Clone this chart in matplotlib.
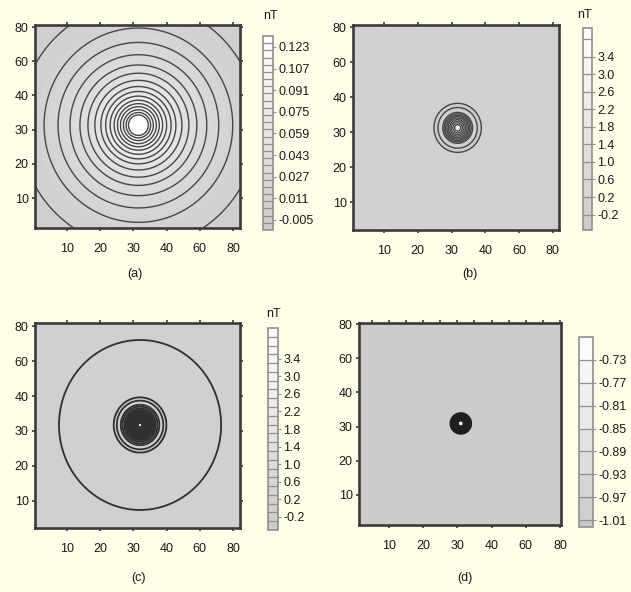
import numpy as np
import matplotlib
matplotlib.use('Agg')
import matplotlib.pyplot as plt
from matplotlib.colors import LinearSegmentedColormap

plt.rcParams['font.family'] = ['Liberation Sans', 'DejaVu Sans']
plt.rcParams['axes.unicode_minus'] = False

# ---------------- data ----------------
tick_labels = ['10', '20', '30', '40', '60', '80']
tick_pos = [1, 2, 3, 4, 5, 6]

a_center = (3.15, 3.13)
a_radius = [0, 0.22, 0.30, 0.37, 0.45, 0.54, 0.63, 0.73, 0.85, 0.985, 1.13,
            1.31, 1.52, 1.76, 2.06, 2.42, 2.84, 3.58, 4.6]
a_value = [0.136, 0.128, 0.123, 0.115, 0.107, 0.099, 0.091, 0.083, 0.075,
           0.067, 0.059, 0.051, 0.043, 0.035, 0.027, 0.019, 0.011, 0.003, -0.007]
a_lines = [0.003, 0.011, 0.019, 0.027, 0.035, 0.043, 0.051, 0.059, 0.067,
           0.075, 0.083, 0.091, 0.099, 0.107, 0.115, 0.123]
a_cb_ticks = [-0.005, 0.011, 0.027, 0.043, 0.059, 0.075, 0.091, 0.107, 0.123]

# panel (b)
b_center = (3.18, 3.12)
b_radius = [0, 0.09, 0.14, 0.19, 0.235, 0.28, 0.32, 0.36, 0.40, 0.44,
            0.58, 0.64, 0.70, 0.85, 4.6]
b_value = [3.8, 3.4, 3.0, 2.6, 2.2, 1.8, 1.4, 1.0, 0.6, 0.2,
           -0.2, -0.3, -0.2, -0.05, 0.0]
b_lines = [-0.2, 0.2, 0.6, 1.0, 1.4, 1.8, 2.2, 2.6, 3.0, 3.4]
b_cb_ticks = [-0.2, 0.2, 0.6, 1.0, 1.4, 1.8, 2.2, 2.6, 3.0, 3.4]

# panel (c)
c_center = (3.2, 3.17)
c_radius = [0, 0.06, 0.15, 0.25, 0.35, 0.45, 0.58, 0.70, 0.745, 0.79, 1.6, 2.44, 4.6]
c_value = [3.9, 3.6, 2.8, 2.0, 1.3, 0.7, 0.2, 0.0, -0.1, 0.0, 0.05, 0.0, -0.04]
c_lines = [-0.2, 0.0, 0.2, 0.4, 0.6, 0.8, 1.0, 1.2, 1.4, 1.6, 1.8, 2.0, 2.2,
           2.4, 2.6, 2.8, 3.0, 3.2, 3.4, 3.6]
c_cb_ticks = [-0.2, 0.2, 0.6, 1.0, 1.4, 1.8, 2.2, 2.6, 3.0, 3.4]

# panel (d)
d_center = (3.1, 3.09)
d_radius = [0, 0.08, 0.12, 0.15, 0.18, 0.21, 0.24, 0.27, 0.30, 4.6]
d_value = [-0.66, -0.73, -0.77, -0.81, -0.85, -0.89, -0.93, -0.97, -1.01, -1.015]
d_lines = [-1.01, -0.97, -0.93, -0.89, -0.85, -0.81, -0.77, -0.73]
d_cb_ticks = [-1.01, -0.97, -0.93, -0.89, -0.85, -0.81, -0.77, -0.73]

# ---------------- styling ----------------
W, H = 631, 592
BG = '#fffee8'
fig = plt.figure(figsize=(W / 100, H / 100), dpi=100, facecolor=BG)

cmap = LinearSegmentedColormap.from_list('g', ['#cacaca', '#ffffff'])


def px_axes(l, t, r, b):
    return fig.add_axes([l / W, 1 - b / H, (r - l) / W, (b - t) / H])


def panel(box, cbox, xlim, ylim, center, radius, value, lines, bounds,
          cb_ticks, fmt, label, label_xy, nT_xy, right_ticks, top_minor, lw, lc):
    ax = px_axes(*box)
    n = 900
    x = np.linspace(xlim[0], xlim[1], n)
    y = np.linspace(ylim[0], ylim[1], n)
    X, Y = np.meshgrid(x, y)
    R = np.hypot(X - center[0], Y - center[1])
    Z = np.interp(R, radius, value)
    eps = 1e-6 * (bounds[-1] - bounds[0])
    Zf = np.clip(Z, bounds[0] + eps, bounds[-1] - eps)
    cf = ax.contourf(X, Y, Zf, levels=bounds, cmap=cmap)
    ax.contour(X, Y, Z, levels=lines, colors=lc, linewidths=lw,
               linestyles='solid')
    ax.set_xlim(xlim)
    ax.set_ylim(ylim)
    ax.set_xticks(tick_pos)
    ax.set_xticklabels(tick_labels)
    ax.set_yticks(tick_pos)
    ax.set_yticklabels(tick_labels)
    for s in ax.spines.values():
        s.set_linewidth(1.9)
        s.set_color('#3a3a3a')
    ax.tick_params(axis='x', which='major', direction='out', length=2.5, width=1.2,
                   color='#3a3a3a', pad=8, labelsize=9, top=True, labelcolor='#1a1a1a')
    ax.tick_params(axis='y', which='major', direction='out', length=2.5, width=1.2,
                   color='#3a3a3a', pad=2, labelsize=9, right=right_ticks,
                   labelcolor='#1a1a1a')
    if top_minor:
        ax.set_xticks([p - 0.5 for p in tick_pos], minor=True)
        ax.tick_params(axis='x', which='minor', direction='out', length=2.5,
                       width=1.2, color='#3a3a3a', bottom=False, top=True)
    cax = px_axes(*cbox)
    cb = fig.colorbar(cf, cax=cax, drawedges=True, spacing='proportional')
    cb.set_ticks(cb_ticks)
    cb.set_ticklabels([fmt.format(v) for v in cb_ticks])
    cb.outline.set_edgecolor('#8f8f8f')
    cb.outline.set_linewidth(1.2)
    cb.dividers.set_color('#8f8f8f')
    cb.dividers.set_linewidth(0.9)
    cax.tick_params(length=2.5, width=0.8, color='#8f8f8f', pad=1.5,
                    labelsize=9, labelcolor='#1a1a1a')
    fig.text(label_xy[0] / W, 1 - label_xy[1] / H, label, ha='center',
             va='center', fontsize=9, color='#1a1a1a')
    if nT_xy is not None:
        fig.text(nT_xy[0] / W, 1 - nT_xy[1] / H, 'nT', ha='center',
                 va='center', fontsize=9, color='#1a1a1a')
    return ax


a_bounds = np.linspace(-0.0124, 0.1311, 28)
b_bounds = np.r_[-0.55, np.linspace(-0.2, 3.8, 11), 4.05]
c_bounds = np.linspace(-0.5, 4.1, 24)
d_bounds = np.r_[-1.022, np.linspace(-1.01, -0.69, 9)]

panel((35, 25, 240, 228), (263, 36, 273, 230), (0.036, 6.21), (0.123, 6.06),
      a_center, a_radius, a_value, a_lines, a_bounds, a_cb_ticks, '{:.3f}',
      '(a)', (135, 274), (270, 16), True, False, 1.0, '#464646')
panel((353, 25, 559, 230), (583, 28, 592, 230), (0.083, 6.18), (0.2, 6.06),
      b_center, b_radius, b_value, b_lines, b_bounds, b_cb_ticks, '{:.1f}',
      '(b)', (470, 274), (584, 15), False, False, 1.0, '#464646')
panel((35, 323, 240, 528), (268, 328, 278, 530), (0.036, 6.21), (0.21, 6.1),
      c_center, c_radius, c_value, c_lines, c_bounds, c_cb_ticks, '{:.1f}',
      '(c)', (138, 578), (273, 314), True, False, 1.3, '#303030')
panel((359, 323, 561, 525), (579, 337, 593, 527), (0.123, 6.03), (0.118, 6.03),
      d_center, d_radius, d_value, d_lines, d_bounds, d_cb_ticks, '{:.2f}',
      '(d)', (465, 578), None, False, True, 1.3, '#1e1e1e')

fig.savefig('out.png', dpi=100, facecolor=BG)
